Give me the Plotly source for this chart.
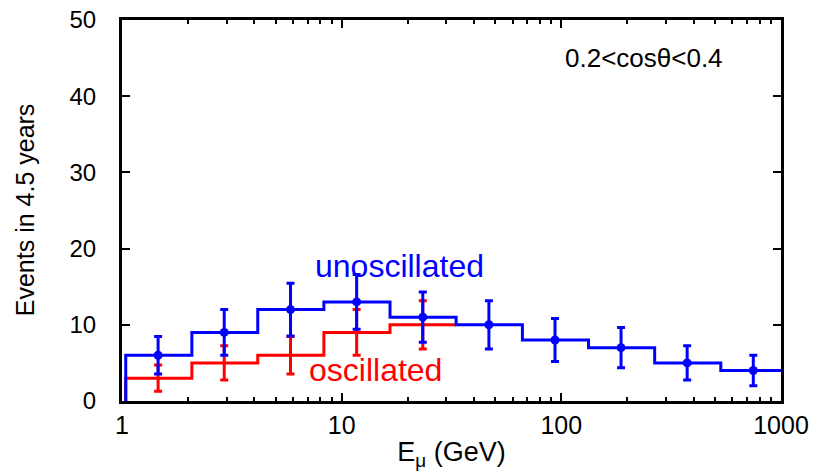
import plotly.graph_objects as go

# Bin edges (GeV) and bin centres
bin_edges = [1.04, 2.08, 4.15, 8.3, 16.6, 33.2, 66.5, 133, 266, 532, 1064]
bin_centers = [1.46, 2.92, 5.85, 11.7, 23.4, 46.8, 93.6, 187, 374, 748]

# Unoscillated (blue)
unosc_counts = [6, 9, 12, 13, 11, 10, 8, 7, 5, 4]
unosc_errors = [2.45, 3.0, 3.46, 3.6, 3.3, 3.16, 2.83, 2.65, 2.24, 2.0]

# Oscillated (red) - visible in the first five bins
osc_counts = [3, 5, 6, 9, 10]
osc_errors = [1.73, 2.24, 2.45, 3.0, 3.16]

BLUE = "#0000ff"
RED = "#ff0000"
FONT = "Liberation Sans, Arial, Helvetica, sans-serif"

fig = go.Figure()

# Red step histogram
n_osc = len(osc_counts)
fig.add_trace(go.Scatter(
    x=[bin_edges[0]] + bin_edges[:n_osc + 1],
    y=[0] + osc_counts + [osc_counts[-1]],
    mode="lines", line=dict(color=RED, width=3, shape="hv"),
    hoverinfo="skip", showlegend=False))

# Red error bars
fig.add_trace(go.Scatter(
    x=bin_centers[:n_osc], y=osc_counts, mode="markers",
    marker=dict(size=1, color=RED, opacity=0),
    error_y=dict(type="data", array=osc_errors, color=RED, thickness=3, width=4),
    showlegend=False))

# Blue step histogram
fig.add_trace(go.Scatter(
    x=[bin_edges[0]] + bin_edges,
    y=[0] + unosc_counts + [unosc_counts[-1]],
    mode="lines", line=dict(color=BLUE, width=3, shape="hv"),
    hoverinfo="skip", showlegend=False))

# Blue points with error bars
fig.add_trace(go.Scatter(
    x=bin_centers, y=unosc_counts, mode="markers",
    marker=dict(size=9, color=BLUE),
    error_y=dict(type="data", array=unosc_errors, color=BLUE, thickness=3, width=4),
    showlegend=False))

fig.add_annotation(x=1.261, y=17.7, xref="x", yref="y", text="unoscillated",
                   showarrow=False, font=dict(family=FONT, size=32, color=BLUE))
fig.add_annotation(x=1.152, y=4.1, xref="x", yref="y", text="oscillated",
                   showarrow=False, font=dict(family=FONT, size=32, color=RED))
fig.add_annotation(x=2.376, y=45.0, xref="x", yref="y", text="0.2&lt;cosθ&lt;0.4",
                   showarrow=False, font=dict(family=FONT, size=26, color="black"))
# Y-axis title
fig.add_annotation(x=-0.147, y=0.501, xref="paper", yref="paper",
                   xanchor="center", yanchor="middle",
                   text="Events in 4.5 years", textangle=-90, showarrow=False,
                   font=dict(family=FONT, size=25, color="black"))

fig.update_layout(
    width=810, height=468,
    margin=dict(l=114, r=37, t=12, b=75),
    plot_bgcolor="white", paper_bgcolor="white",
    font=dict(family=FONT, size=25, color="black"),
    showlegend=False,
)

fig.update_xaxes(
    type="log", range=[0, 3], automargin=False,
    tickvals=[1, 10, 100, 1000], ticktext=["1", "10", "100", "1000"],
    ticks="inside", ticklen=8, tickwidth=2, tickcolor="black",
    minor=dict(tickvals=[2, 3, 4, 5, 6, 7, 8, 9, 20, 30, 40, 50, 60, 70, 80, 90,
                         200, 300, 400, 500, 600, 700, 800, 900],
               ticks="inside", ticklen=4, tickwidth=2, tickcolor="black", showgrid=False),
    showline=True, linewidth=3, linecolor="black", mirror="ticks",
    showgrid=False, zeroline=False, ticklabeloverflow="allow",
    title=dict(text="E<sub>μ</sub> (GeV)", font=dict(size=27), standoff=5),
    tickfont=dict(size=25),
)
fig.update_yaxes(
    range=[0, 50], tickvals=[0, 10, 20, 30, 40, 50], automargin=False,
    ticks="inside", ticklen=8, tickwidth=2, tickcolor="black",
    showline=True, linewidth=3, linecolor="black", mirror="ticks",
    showgrid=False, zeroline=False, ticklabeloverflow="allow",
    ticklabelstandoff=18,
    tickfont=dict(size=24),
)

fig.write_html("out.html")
